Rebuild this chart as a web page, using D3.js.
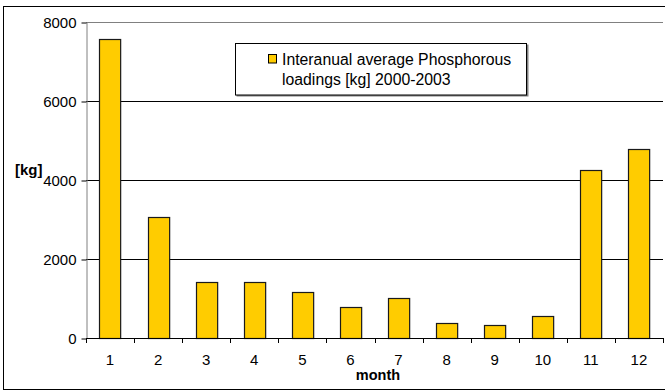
<!DOCTYPE html>
<html>
<head>
<meta charset="utf-8">
<script src="https://cdn.jsdelivr.net/npm/d3@7"></script>
<style>
  html, body { margin: 0; padding: 0; background: #fff; }
  svg { display: block; font-family: "Liberation Sans", Arial, sans-serif; }
</style>
</head>
<body>
<svg id="chart" width="665" height="391"></svg>
<script>
const months = ["1","2","3","4","5","6","7","8","9","10","11","12"];
const loadings = [7580, 3070, 1425, 1425, 1170, 785, 1005, 370, 330, 550, 4260, 4780];
const yTicks = [0, 2000, 4000, 6000, 8000];
const legendLines = ["Interanual average Phosphorous", "loadings [kg] 2000-2003"];
const yLabel = "[kg]";
const xLabel = "month";

const svg = d3.select("#chart");
const plotL = 86, plotR = 663, plotT = 22, plotB = 338;

const x = d3.scaleBand().domain(months).range([plotL, plotR]).paddingInner(0.56).paddingOuter(0.28);
const y = d3.scaleLinear().domain([0, 8000]).range([plotB, plotT]);

// outer border
svg.append("rect").attr("x", 3.5).attr("y", 6.5).attr("width", 670).attr("height", 383)
  .attr("fill", "none").attr("stroke", "#000").attr("stroke-width", 1);

// gridlines
svg.append("g").selectAll("line").data(yTicks.filter(d => d > 0)).join("line")
  .attr("x1", plotL).attr("x2", plotR)
  .attr("y1", d => Math.round(y(d)) + 0.5).attr("y2", d => Math.round(y(d)) + 0.5)
  .attr("stroke", d => d === 8000 ? "#808080" : "#000").attr("stroke-width", 1);

// y axis
const yAxis = svg.append("g").attr("transform", `translate(${plotL + 0.5},0.5)`)
  .call(d3.axisLeft(y).tickValues(yTicks).tickSize(5).tickSizeOuter(0).tickPadding(5).tickFormat(d3.format("d")));
yAxis.select(".domain").attr("stroke", "#808080");
yAxis.selectAll(".tick line").attr("stroke", "#000");
yAxis.selectAll("text").attr("font-size", 15).attr("fill", "#000")
  .attr("font-family", "'Liberation Sans', Arial, sans-serif");

// bars
svg.append("g").selectAll("rect").data(loadings).join("rect")
  .attr("x", (d, i) => Math.round(x(months[i])) + 0.5)
  .attr("y", d => Math.round(y(d)) + 0.5)
  .attr("width", x.bandwidth())
  .attr("height", d => Math.round(y(0)) - Math.round(y(d)))
  .attr("fill", "#FFCC00").attr("stroke", "#1a1a1a").attr("stroke-width", 1.2);

// x axis
const boundaries = d3.range(0, 13).map(i => plotL + i * x.step());
const xg = svg.append("g");
xg.append("line").attr("x1", plotL).attr("x2", plotR)
  .attr("y1", plotB + 0.5).attr("y2", plotB + 0.5).attr("stroke", "#000");
xg.selectAll("line.tk").data(boundaries).join("line").attr("class", "tk")
  .attr("x1", d => Math.round(d) + 0.5).attr("x2", d => Math.round(d) + 0.5)
  .attr("y1", plotB).attr("y2", plotB + 5).attr("stroke", "#000");
xg.selectAll("text").data(months).join("text")
  .attr("x", d => x(d) + x.bandwidth() / 2).attr("y", 364.5)
  .attr("text-anchor", "middle").attr("font-size", 15).text(d => d);

// axis titles
svg.append("text").attr("x", 15).attr("y", 175).attr("font-size", 15)
  .attr("font-weight", "bold").text(yLabel);
svg.append("text").attr("x", 378).attr("y", 380).attr("text-anchor", "middle")
  .attr("font-size", 14.5).attr("font-weight", "bold").text(xLabel);

// legend
const lg = svg.append("g");
lg.append("rect").attr("x", 236.5).attr("y", 44.5).attr("width", 292).attr("height", 52)
  .attr("fill", "#808080");
lg.append("rect").attr("x", 235.5).attr("y", 43.5).attr("width", 291).attr("height", 51.5)
  .attr("fill", "#fff").attr("stroke", "#000");
lg.append("rect").attr("x", 268.5).attr("y", 54.5).attr("width", 8).attr("height", 8.5)
  .attr("fill", "#FFCC00").attr("stroke", "#000");
lg.selectAll("text").data(legendLines).join("text")
  .attr("x", 282).attr("y", (d, i) => 64.5 + i * 20)
  .attr("font-size", 15.8).text(d => d);
</script>
</body>
</html>
